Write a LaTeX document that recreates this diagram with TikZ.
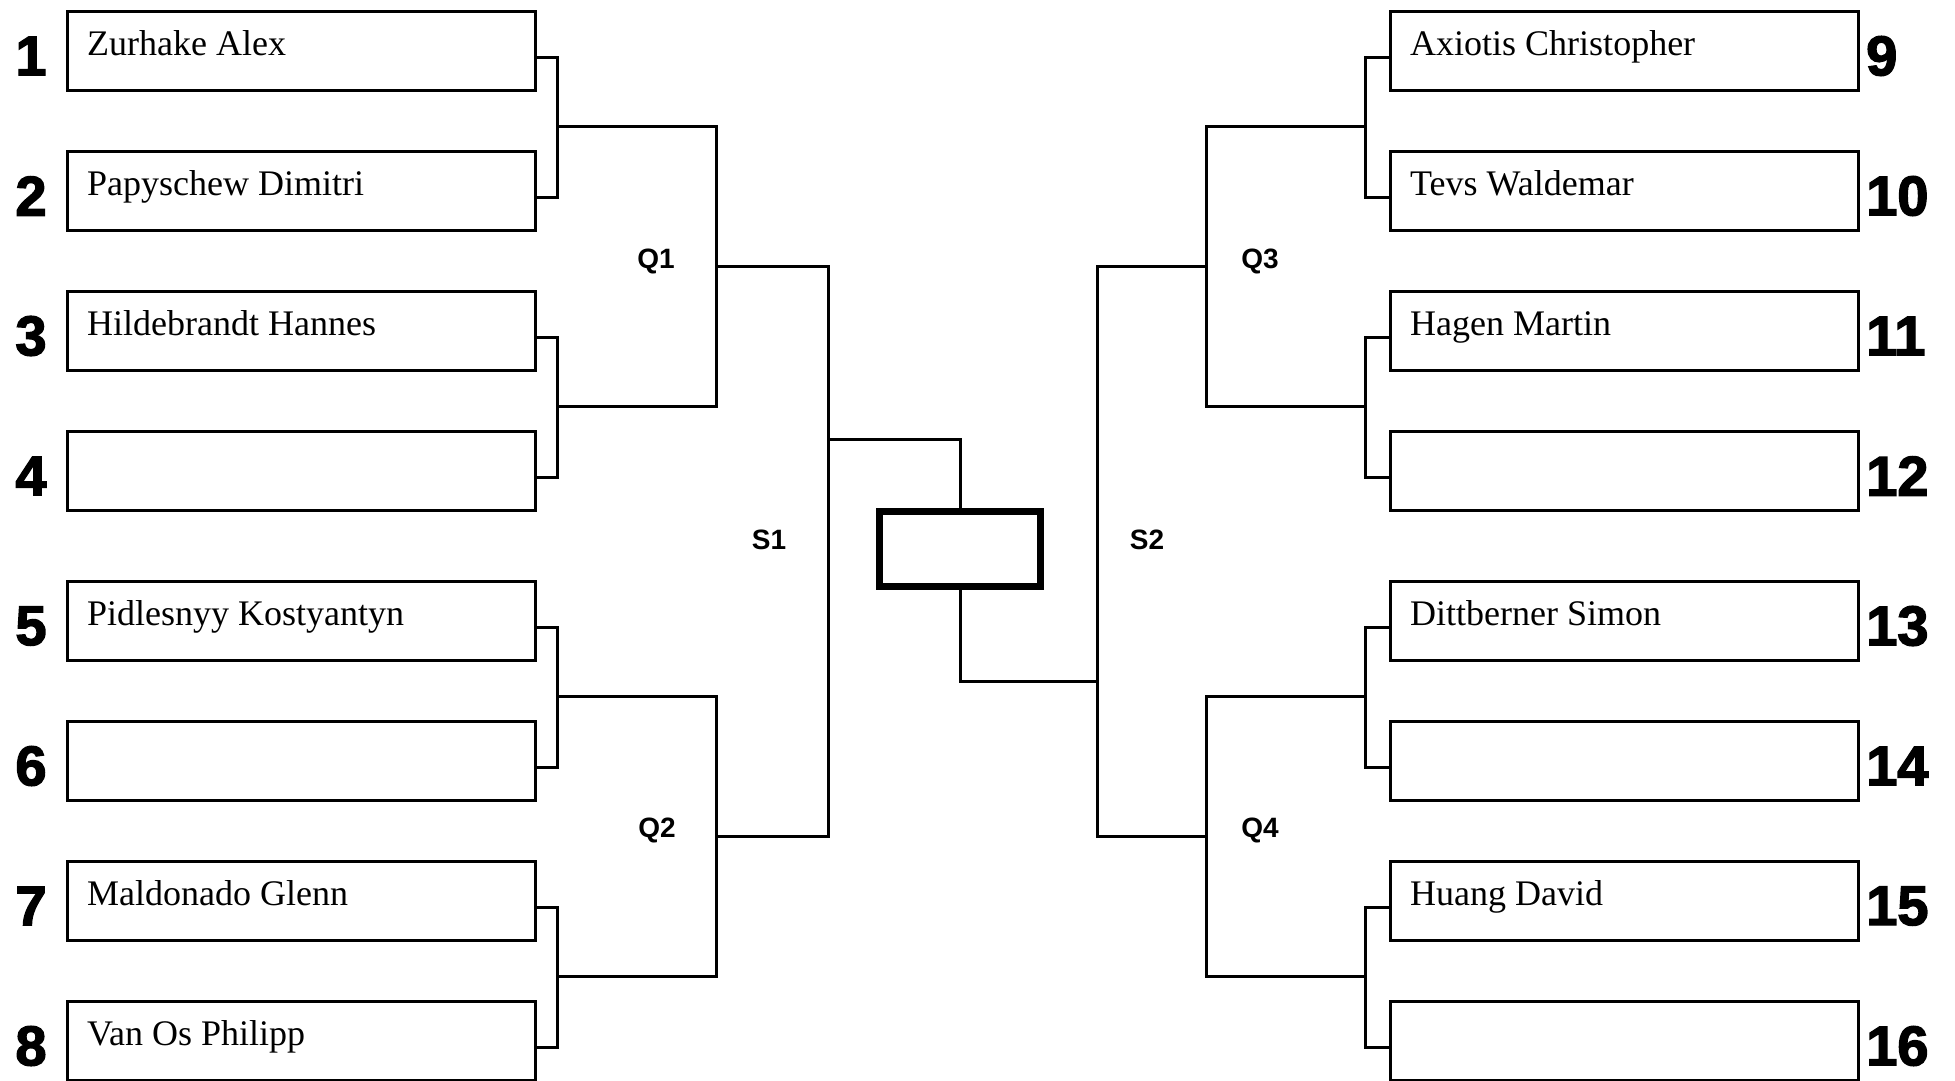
\documentclass[tikz,border=0pt]{standalone}
\usepackage{fontspec}
\setmainfont{Liberation Serif}
\newfontfamily\numfont{Liberation Sans}
\newfontfamily\heavyfont{Liberation Sans Bold}[FakeBold=2.5]
\begin{document}
\begin{tikzpicture}[x=1pt,y=-1pt,
  entry/.style={draw, line width=3.2pt, minimum width=468pt, minimum height=79pt, inner sep=0pt, anchor=north west},
  finalbox/.style={draw, line width=6.5pt, minimum width=161pt, minimum height=75pt, inner sep=0pt},
  pname/.style={anchor=base west, inner sep=0pt, font=\fontsize{36}{40}\selectfont},
  seednum/.style={font=\heavyfont\fontsize{56}{60}\selectfont, inner sep=0pt},
  rlabel/.style={font=\numfont\bfseries\fontsize{28}{30}\selectfont, inner sep=0pt},
  conn/.style={line width=3pt},
]
\useasboundingbox (0,0) rectangle (1955,1080);
% left entries
\foreach \i/\y in {1/10,2/150,3/290,4/430,5/580,6/720,7/860,8/1000} {
  \node[entry] (b\i) at (66,\y) {};
  \coordinate (c\i) at ([yshift=-6.5pt]b\i.east);
  \node[seednum] (n\i) at (31,\y+46) {\i};
}
% right entries
\foreach \i/\y in {9/10,10/150,11/290,12/430,13/580,14/720,15/860,16/1000} {
  \node[entry] (b\i) at (1389,\y) {};
  \coordinate (c\i) at ([yshift=-6.5pt]b\i.west);
  \node[seednum, anchor=west] (n\i) at (1866,\y+46) {\i};
}
% names
\foreach \i/\txt in {1/Zurhake Alex,2/Papyschew Dimitri,3/Hildebrandt Hannes,5/Pidlesnyy Kostyantyn,7/Maldonado Glenn,8/Van Os Philipp,9/Axiotis Christopher,10/Tevs Waldemar,11/Hagen Martin,13/Dittberner Simon,15/Huang David} {
  \node[pname] (t\i) at ([xshift=21pt,yshift=-45pt]b\i.north west) {\txt};
}
% bracket coordinates
\coordinate (m1) at (557,126);
\coordinate (m2) at (557,406);
\coordinate (m3) at (557,696);
\coordinate (m4) at (557,976);
\coordinate (m5) at (1365,126);
\coordinate (m6) at (1365,406);
\coordinate (m7) at (1365,696);
\coordinate (m8) at (1365,976);
\coordinate (q1) at (716,266);
\coordinate (q2) at (716,836);
\coordinate (q3) at (1206,266);
\coordinate (q4) at (1206,836);
\coordinate (s1) at (828,439);
\coordinate (s2) at (1097,681);
\node[finalbox] (fin) at (960,549) {};
% first round
\draw[conn] (c1) -| (m1) |- (c2);
\draw[conn] (c3) -| (m2) |- (c4);
\draw[conn] (c5) -| (m3) |- (c6);
\draw[conn] (c7) -| (m4) |- (c8);
\draw[conn] (c9) -| (m5) |- (c10);
\draw[conn] (c11) -| (m6) |- (c12);
\draw[conn] (c13) -| (m7) |- (c14);
\draw[conn] (c15) -| (m8) |- (c16);
% quarterfinals
\draw[conn] (m1) -| (q1) |- (m2);
\draw[conn] (m3) -| (q2) |- (m4);
\draw[conn] (m5) -| (q3) |- (m6);
\draw[conn] (m7) -| (q4) |- (m8);
% semifinals
\draw[conn] (q1) -| (s1) |- (q2);
\draw[conn] (q3) -| (s2) |- (q4);
\draw[conn] (s1) -| (fin.north);
\draw[conn] (fin.south) |- (s2);
% labels
\node[rlabel] (lq1) at (656,261) {Q1};
\node[rlabel] (lq2) at (657,830) {Q2};
\node[rlabel] (ls1) at (769,540) {S1};
\node[rlabel] (ls2) at (1147,540) {S2};
\node[rlabel] (lq3) at (1260,261) {Q3};
\node[rlabel] (lq4) at (1260,830) {Q4};
\end{tikzpicture}
\end{document}
